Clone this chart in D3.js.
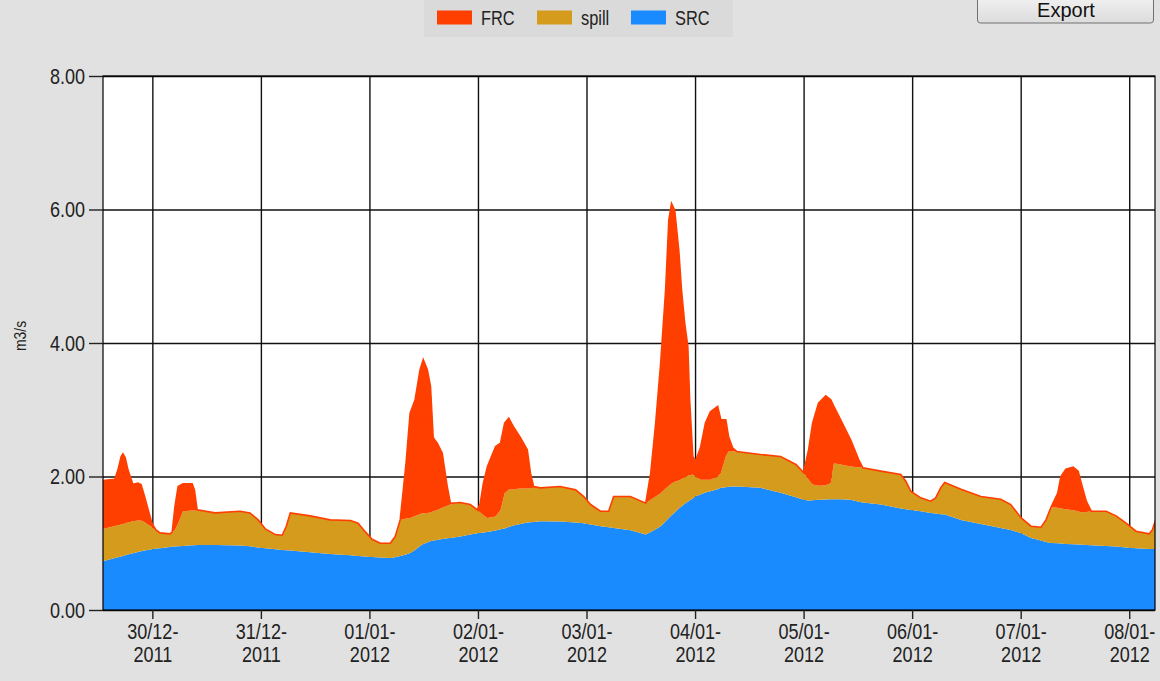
<!DOCTYPE html>
<html><head><meta charset="utf-8">
<script src="https://cdn.jsdelivr.net/npm/d3@7"></script>
<style>html,body{margin:0;padding:0;background:#e1e1e1;overflow:hidden}</style>
</head><body>
<svg id="c" width="1160" height="681"></svg>
<script>
// hours after 30/12/2011 00:00
const hours = [
 -10.9,-8.3,-7.6,-6.9,-6.5,-6.0,-5.4,-4.3,-3.2,-2.5,
 -1.8,-1.0,-0.1,0.8,1.7,3.9,4.4,5.0,5.7,6.8,
 8.8,9.3,9.9,13.9,19.4,21.6,23.4,25.0,27.2,28.7,
 29.6,30.5,34.9,39.3,43.8,45.5,47.1,48.6,50.4,52.6,
 53.7,54.8,55.5,56.1,57.0,58.1,59.2,59.9,60.8,61.5,
 62.1,63.0,64.1,65.2,65.9,68.1,70.3,71.9,72.5,73.2,
 74.1,75.9,77.0,77.9,78.8,79.8,81.4,82.9,83.6,84.3,
 85.8,90.2,93.6,95.4,96.9,99.1,100.9,102.0,105.7,109.1,
 110.2,111.3,112.4,113.5,114.2,114.8,115.5,116.4,117.0,117.7,
 118.4,118.8,119.5,120.1,121.2,122.3,123.4,125.0,125.7,126.8,
 127.4,128.3,129.2,134.5,138.9,142.3,144.0,145.1,146.0,147.3,
 148.9,150.0,150.7,152.2,154.4,156.2,157.1,161.1,165.5,166.6,
 167.7,169.9,172.1,173.2,174.3,175.2,178.8,183.2,187.6,189.8,
 192.1,194.3,196.5,197.6,198.7,200.2,200.9,202.0,203.6,204.7,
 205.4,206.5,207.6,210.9,213.1,215.3,217.5,220.4,221.1,222.0];
const SRC = [
 0.73,0.78,0.79,0.80,0.81,0.82,0.83,0.85,0.87,0.88,
 0.89,0.90,0.91,0.92,0.925,0.945,0.95,0.95,0.955,0.96,
 0.97,0.97,0.975,0.975,0.965,0.955,0.935,0.925,0.91,0.90,
 0.895,0.89,0.865,0.84,0.82,0.81,0.80,0.795,0.785,0.78,
 0.79,0.81,0.82,0.83,0.855,0.90,0.96,0.99,1.01,1.03,
 1.04,1.05,1.065,1.075,1.08,1.10,1.13,1.15,1.155,1.16,
 1.17,1.19,1.21,1.22,1.245,1.265,1.29,1.31,1.315,1.32,
 1.33,1.325,1.31,1.30,1.28,1.255,1.24,1.23,1.195,1.13,
 1.17,1.21,1.255,1.33,1.38,1.42,1.46,1.52,1.55,1.59,
 1.62,1.64,1.67,1.70,1.73,1.76,1.78,1.81,1.83,1.84,
 1.845,1.85,1.85,1.83,1.755,1.69,1.65,1.64,1.645,1.65,
 1.655,1.66,1.66,1.66,1.65,1.62,1.61,1.58,1.52,1.51,
 1.50,1.48,1.455,1.445,1.435,1.43,1.35,1.29,1.23,1.20,
 1.15,1.08,1.04,1.02,1.005,1.00,0.995,0.99,0.985,0.98,
 0.98,0.975,0.97,0.96,0.95,0.935,0.925,0.915,0.915,0.915];
const spill = [
 .485,.48,.48,.48,.48,.48,.48,.48,.47,.46,
 .43,.38,.335,.28,.23,.195,.22,.25,.345,.52,
 .52,.52,.515,.48,.515,.50,.415,.29,.22,.22,
 .355,.565,.545,.51,.52,.49,.37,.265,.215,.22,
 .31,.54,.54,.54,.525,.51,.48,.46,.445,.43,
 .44,.45,.465,.485,.50,.51,.45,.35,.305,.26,
 .21,.21,.29,.53,.555,.545,.53,.51,.51,.51,
 .50,.525,.49,.40,.30,.225,.24,.47,.505,.47,
 .48,.49,.495,.49,.48,.47,.46,.42,.41,.40,
 .39,.38,.36,.30,.22,.19,.17,.19,.22,.46,
 .53,.525,.525,.50,.545,.49,.41,.31,.235,.21,
 .215,.24,.54,.52,.50,.52,.52,.50,.51,.42,
 .28,.20,.175,.235,.395,.48,.46,.41,.43,.38,
 .23,.175,.20,.33,.535,.53,.525,.52,.51,.50,
 .48,.495,.51,.52,.46,.365,.255,.225,.285,.465];
const FRC = [
 .725,.70,.83,1.02,1.05,.98,.79,.55,.56,.54,
 .40,.24,.055,0,0,0,0,.35,.55,.41,
 .40,.31,.01,0,0,0,0,0,0,0,
 0,0,0,0,0,0,0,0,0,0,
 0,0,.44,.83,1.57,1.74,2.16,2.30,2.145,1.89,
 1.10,1.00,.82,.29,.02,0,0,0,.14,.48,
 .77,1.05,1.00,1.05,1.075,.94,.76,.58,.225,.02,
 0,0,0,0,0,0,0,0,0,0,
 .40,1.10,1.95,2.98,3.98,4.20,4.07,3.45,2.84,2.31,
 1.94,1.13,.27,.23,.48,.85,1.02,1.05,.80,.55,
 .225,.055,0,0,0,0,0,.45,.92,1.24,
 1.34,1.25,.85,.67,.40,.11,0,0,0,0,
 0,0,0,0,0,0,0,0,0,0,
 0,0,0,0,0,.22,.48,.60,.645,.60,
 .44,.16,0,0,0,0,0,0,0,0];

const legendNames = ["FRC","spill","SRC"];
const stackKeys = ["SRC","spill","FRC"];
const colors = {FRC:"#ff3f00", spill:"#d59b1d", SRC:"#1a8bff"};
const yTicks = [0,2,4,6,8];
const xTickDays = ["2011-12-30","2011-12-31","2012-01-01","2012-01-02","2012-01-03","2012-01-04","2012-01-05","2012-01-06","2012-01-07","2012-01-08"];
const yTitle = "m3/s";

const base = new Date(2011,11,30,0,0,0);
const t = h => new Date(base.getTime() + h*3600e3);
const parseDay = s => { const [Y,M,D] = s.split("-").map(Number); return new Date(Y,M-1,D); };

const L = 103, R = 1155, T = 76, B = 610;
const SX = 0.82; // horizontal squeeze to mimic the narrow UI font
const FONT = "'Liberation Sans',Arial,sans-serif";
const svg = d3.select("#c");

svg.append("rect").attr("width",1160).attr("height",681).attr("fill","#e1e1e1");

const x = d3.scaleTime().domain([t(-10.91), t(221.7)]).range([L, R]);
const y = d3.scaleLinear().domain([0,8]).range([B, T]);

svg.append("rect").attr("x",L).attr("y",T).attr("width",R-L).attr("height",B-T).attr("fill","#fff");

// gridlines
const gx = svg.append("g").attr("transform",`translate(0,${B})`)
  .call(d3.axisBottom(x).tickValues(xTickDays.map(parseDay)).tickSize(-(B-T)).tickFormat(""));
gx.select(".domain").remove();
gx.selectAll("line").attr("stroke","#111").attr("stroke-width",1.4);
const gy = svg.append("g").attr("transform",`translate(${L},0)`)
  .call(d3.axisLeft(y).tickValues(yTicks).tickSize(-(R-L)).tickFormat(""));
gy.select(".domain").remove();
gy.selectAll("line").attr("stroke","#111").attr("stroke-width",1.4);

// data
const data = hours.map((h,i)=>({date:t(h), SRC:SRC[i], spill:spill[i], FRC:FRC[i]}));
const series = d3.stack().keys(stackKeys)(data);

svg.append("clipPath").attr("id","clip").append("rect")
  .attr("x",L).attr("y",T).attr("width",R-L).attr("height",B-T);
const plot = svg.append("g").attr("clip-path","url(#clip)");
const area = d3.area().x(d=>x(d.data.date)).y0(d=>y(d[0])).y1(d=>y(d[1]));
plot.selectAll("path.layer").data(series).join("path").attr("class","layer")
  .attr("fill",d=>colors[d.key]).attr("d",area);
const topLine = d3.line().x(d=>x(d.data.date)).y(d=>y(d[1]));
plot.append("path").datum(series[series.length-1]).attr("fill","none")
  .attr("stroke",colors.FRC).attr("stroke-width",1.6).attr("d",topLine);

// border
svg.append("rect").attr("x",L).attr("y",T).attr("width",R-L).attr("height",B-T)
  .attr("fill","none").attr("stroke","#000").attr("stroke-width",1.2);

// y axis
const ay = svg.append("g").attr("transform",`translate(${L},0)`)
  .call(d3.axisLeft(y).tickValues(yTicks).tickSize(14).tickPadding(4).tickFormat(d3.format(".2f")));
ay.select(".domain").remove();
ay.selectAll("line").attr("stroke","#222").attr("stroke-width",1.4);
ay.selectAll("text").attr("x",0).attr("transform",`translate(-18,0) scale(${SX},1)`)
  .attr("font-family",FONT).attr("font-size",22).attr("fill","#222");

// x axis
const fmt1 = d3.timeFormat("%d/%m-"), fmt2 = d3.timeFormat("%Y");
const ax = svg.append("g").attr("transform",`translate(0,${B})`)
  .call(d3.axisBottom(x).tickValues(xTickDays.map(parseDay)).tickSize(9).tickFormat(""));
ax.select(".domain").remove();
ax.selectAll("line").attr("stroke","#222").attr("stroke-width",1.4);
ax.selectAll(".tick").each(function(d){
  const tx = d3.select(this).append("text").attr("fill","#222").attr("text-anchor","middle")
    .attr("transform",`scale(${SX},1)`).attr("font-family",FONT).attr("font-size",22);
  tx.append("tspan").attr("x",0).attr("y",29.5).text(fmt1(d));
  tx.append("tspan").attr("x",0).attr("y",52.5).text(fmt2(d));
});

// y title
svg.append("text").attr("transform",`translate(26,336) rotate(-90) scale(${SX},1)`)
  .attr("text-anchor","middle").attr("font-family",FONT).attr("font-size",17)
  .attr("fill","#222").text(yTitle);

// legend
svg.append("rect").attr("x",424).attr("y",-1).attr("width",309).attr("height",38).attr("fill","#dadada");
const legX = [437, 537, 631];
legendNames.forEach((k,i)=>{
  svg.append("rect").attr("x",legX[i]).attr("y",10.5).attr("width",35).attr("height",14).attr("fill",colors[k]);
  svg.append("text").attr("transform",`translate(${legX[i]+44},25) scale(${SX},1)`).attr("font-family",FONT)
    .attr("font-size",20).attr("fill","#222").text(k);
});

// Export button
const defs = svg.append("defs");
const gr = defs.append("linearGradient").attr("id","btn").attr("x1",0).attr("x2",0).attr("y1",0).attr("y2",1);
gr.append("stop").attr("offset","0%").attr("stop-color","#f4f4f4");
gr.append("stop").attr("offset","100%").attr("stop-color","#dcdcdc");
svg.append("rect").attr("x",977.5).attr("y",-6).attr("width",176).attr("height",29).attr("rx",3)
  .attr("fill","url(#btn)").attr("stroke","#707070");
svg.append("text").attr("x",1066).attr("y",16.5).attr("text-anchor","middle")
  .attr("font-family",FONT).attr("font-size",20).attr("fill","#111").text("Export");
</script>
</body></html>
